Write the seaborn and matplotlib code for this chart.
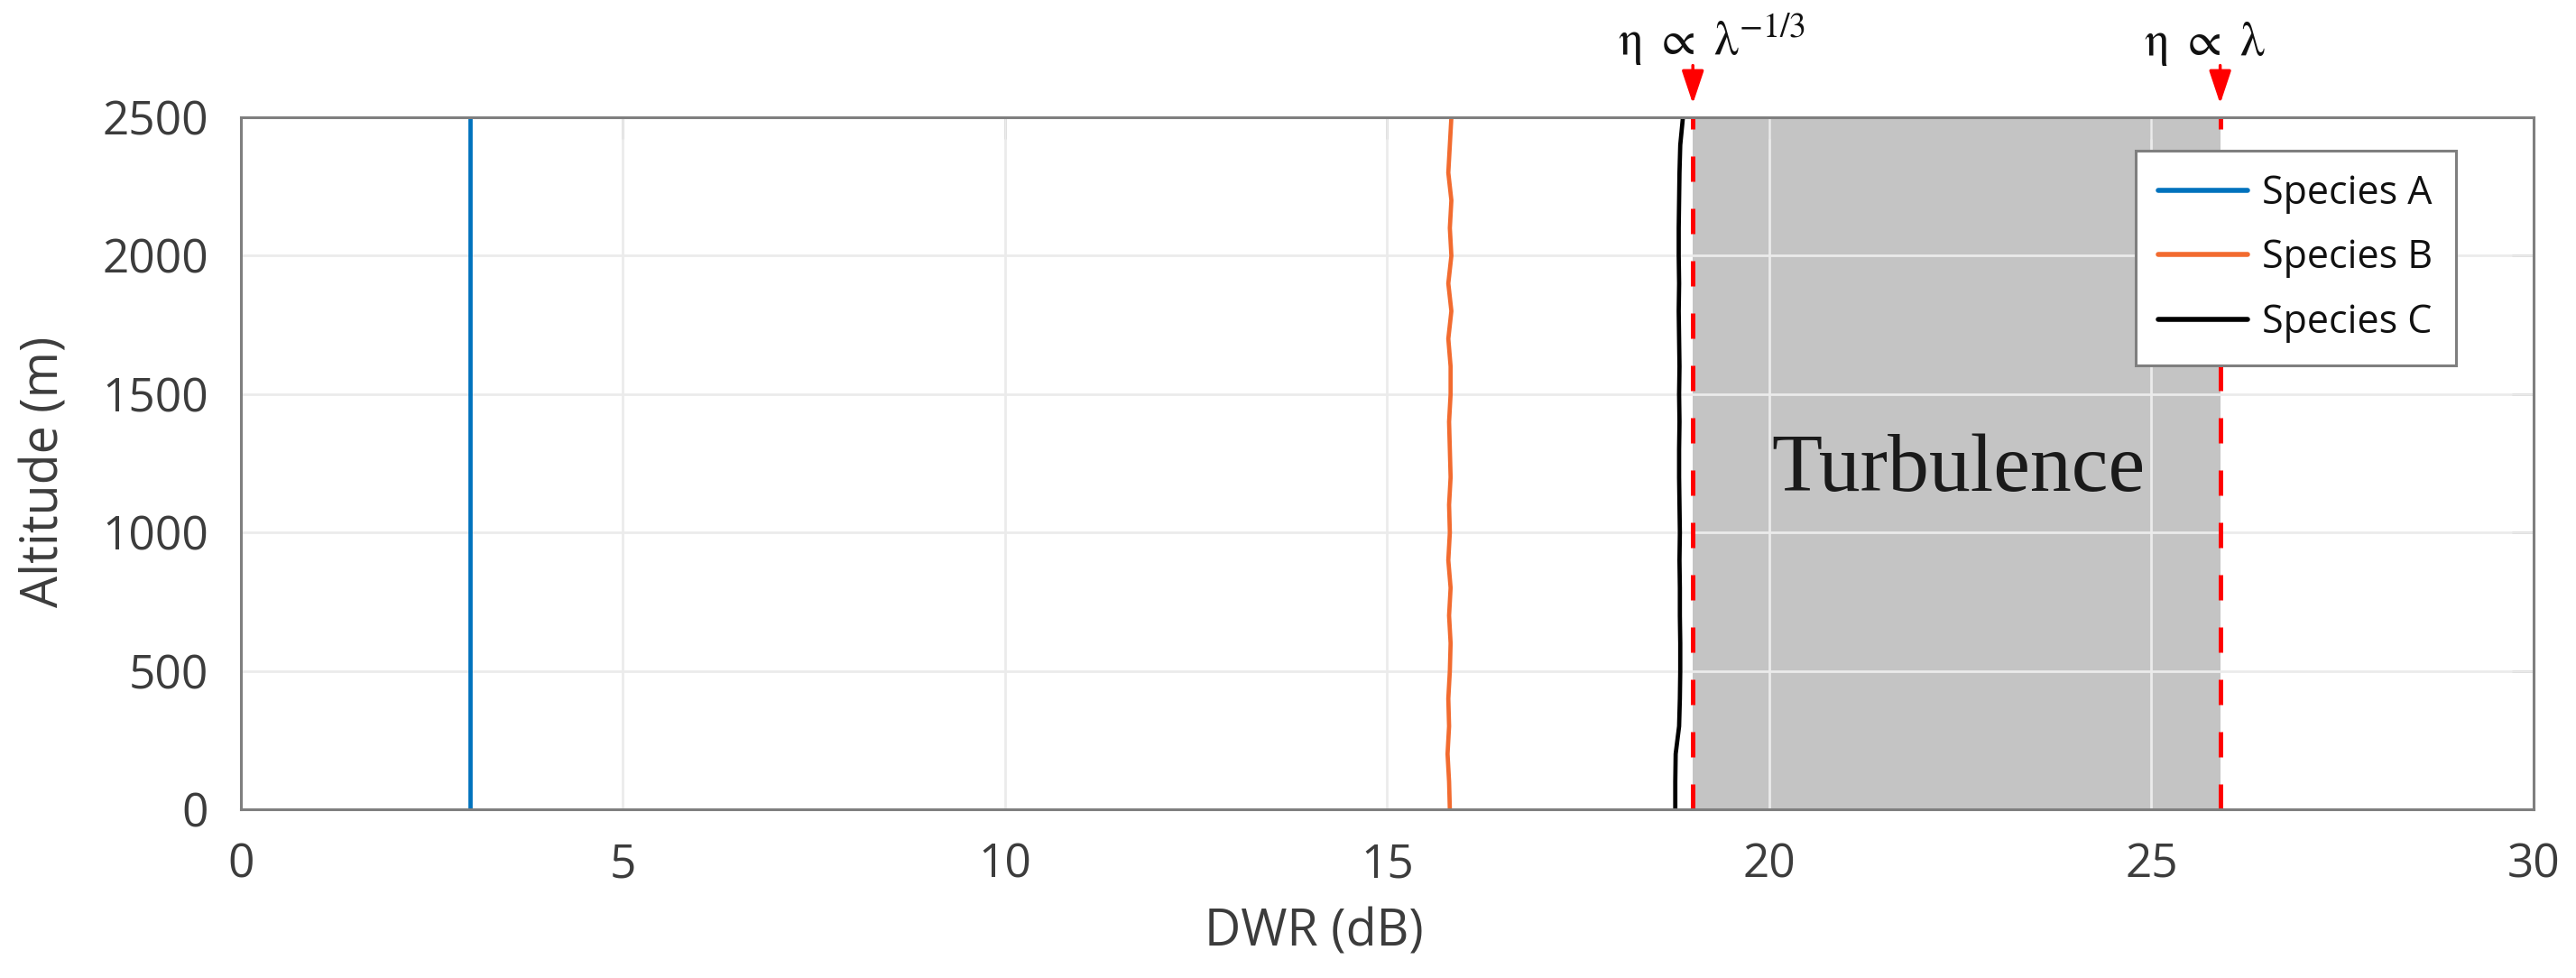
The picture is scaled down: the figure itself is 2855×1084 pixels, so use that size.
import numpy as np
import pandas as pd
import matplotlib
matplotlib.use("Agg")
import matplotlib.pyplot as plt
import seaborn as sns

# ---------------- data ----------------
altitude = [0, 100, 200, 300, 400, 500, 600, 700, 800, 900, 1000, 1100, 1200,
            1300, 1400, 1500, 1600, 1700, 1800, 1900, 2000, 2100, 2200, 2300,
            2400, 2500]
species_a = [3.0, 3.0, 3.0, 3.0, 3.0, 3.0, 3.0, 3.0, 3.0, 3.0, 3.0, 3.0, 3.0,
             3.0, 3.0, 3.0, 3.0, 3.0, 3.0, 3.0, 3.0, 3.0, 3.0, 3.0, 3.0, 3.0]
species_b = [15.82, 15.81, 15.79, 15.81, 15.80, 15.82, 15.83, 15.81, 15.83,
             15.80, 15.82, 15.81, 15.83, 15.82, 15.81, 15.83, 15.83, 15.80,
             15.84, 15.80, 15.84, 15.82, 15.84, 15.80, 15.82, 15.84]
species_c = [18.77, 18.77, 18.775, 18.82, 18.83, 18.835, 18.835, 18.83, 18.83,
             18.825, 18.83, 18.825, 18.82, 18.82, 18.825, 18.82, 18.825, 18.82,
             18.815, 18.82, 18.815, 18.815, 18.82, 18.825, 18.835, 18.87]
species_names = ["Species A", "Species B", "Species C"]
species_colors = ["#0072BD", "#F26B2F", "#000000"]
turbulence_bounds = [19.0, 25.9]
bound_labels = [r"$\mathrm{\eta}\ \propto\ \mathrm{\lambda}^{-1/3}$",
                r"$\mathrm{\eta}\ \propto\ \mathrm{\lambda}$"]
x_ticks = [0, 5, 10, 15, 20, 25, 30]
y_ticks = [0, 500, 1000, 1500, 2000, 2500]

df = pd.DataFrame({
    "Altitude": altitude * 3,
    "DWR": species_a + species_b + species_c,
    "Species": [species_names[0]] * len(altitude)
               + [species_names[1]] * len(altitude)
               + [species_names[2]] * len(altitude),
})

# ---------------- style ----------------
sns.set_theme(style="white")
plt.rcParams["font.family"] = ["Open Sans", "DejaVu Sans"]
plt.rcParams["mathtext.fontset"] = "stix"

text_col = "#3C3C3C"
spine_col = "#7F7F7F"

fig = plt.figure(figsize=(28.55, 10.84), dpi=100)
ax = fig.add_axes([0.0935, 0.1725, 0.9835 - 0.0935, 0.880 - 0.1725])

# turbulence region
ax.axvspan(turbulence_bounds[0], turbulence_bounds[1], color="#C4C4C4",
           lw=0, zorder=0.5)

# grid
for xv in x_ticks:
    ax.axvline(xv, color="#EBEBEB", lw=2, zorder=0.8)
for yv in y_ticks:
    ax.axhline(yv, color="#EBEBEB", lw=2, zorder=0.8)

palette = dict(zip(species_names, species_colors))
sns.lineplot(data=df, x="DWR", y="Altitude", hue="Species", palette=palette,
             orient="y", estimator=None, sort=True, lw=3.4, ax=ax, zorder=3)

# dashed bounds
for b in turbulence_bounds:
    ax.axvline(b, color="#FF0000", lw=3.6, ls=(0, (5.6, 6.0)), zorder=4)

ax.set_xlim(x_ticks[0], x_ticks[-1])
ax.set_ylim(y_ticks[0], y_ticks[-1])
ax.set_xticks(x_ticks)
ax.set_yticks(y_ticks)
ax.tick_params(direction="in", top=True, right=True, length=17, width=2,
               color=spine_col, labelsize=37, labelcolor=text_col, pad=26)
for s in ax.spines.values():
    s.set_color(spine_col)
    s.set_linewidth(2.2)
    s.set_zorder(5)

ax.set_xlabel("DWR (dB)", fontsize=40, color=text_col)
ax.set_ylabel("Altitude (m)", fontsize=40, color=text_col)
ax.xaxis.set_label_coords(0.468, -0.141)
ax.yaxis.set_label_coords(-0.074, 0.488)

# Turbulence text
ax.text(22.47, 1222, "Turbulence", fontsize=66, family="Liberation Serif",
        ha="center", va="center", color="#1A1A1A", zorder=6)

# annotations above the bounds
text_x = [18.02, turbulence_bounds[1] - 0.2]
text_ha = ["left", "center"]
for b, lab, tx, ha in zip(turbulence_bounds, bound_labels, text_x, text_ha):
    ax.annotate("", xy=(b, 1.0196), xycoords=("data", "axes fraction"),
                xytext=(b, 1.075), textcoords=("data", "axes fraction"),
                arrowprops=dict(arrowstyle="-|>,head_length=0.45,head_width=0.15",
                                color="#FF0000", lw=2.5, mutation_scale=50,
                                shrinkA=0, shrinkB=0),
                annotation_clip=False)
    ax.text(tx, 1.09, lab, transform=ax.get_xaxis_transform(), fontsize=39,
            ha=ha, va="baseline", color="#111111", clip_on=False)

# legend
handles, labels = ax.get_legend_handles_labels()
leg = ax.legend(handles, labels, loc="upper right",
                bbox_to_anchor=(0.966, 0.952), borderaxespad=0,
                fontsize=31, frameon=True, fancybox=False, framealpha=1,
                edgecolor=spine_col, handlelength=2.3, handletextpad=0.35,
                labelspacing=0.62, borderpad=0.6)
leg.get_frame().set_linewidth(2.2)
leg.set_zorder(7)
for t in leg.get_texts():
    t.set_color("#111111")
for h in leg.get_lines():
    h.set_linewidth(4)

fig.savefig("out.png", dpi=100)
